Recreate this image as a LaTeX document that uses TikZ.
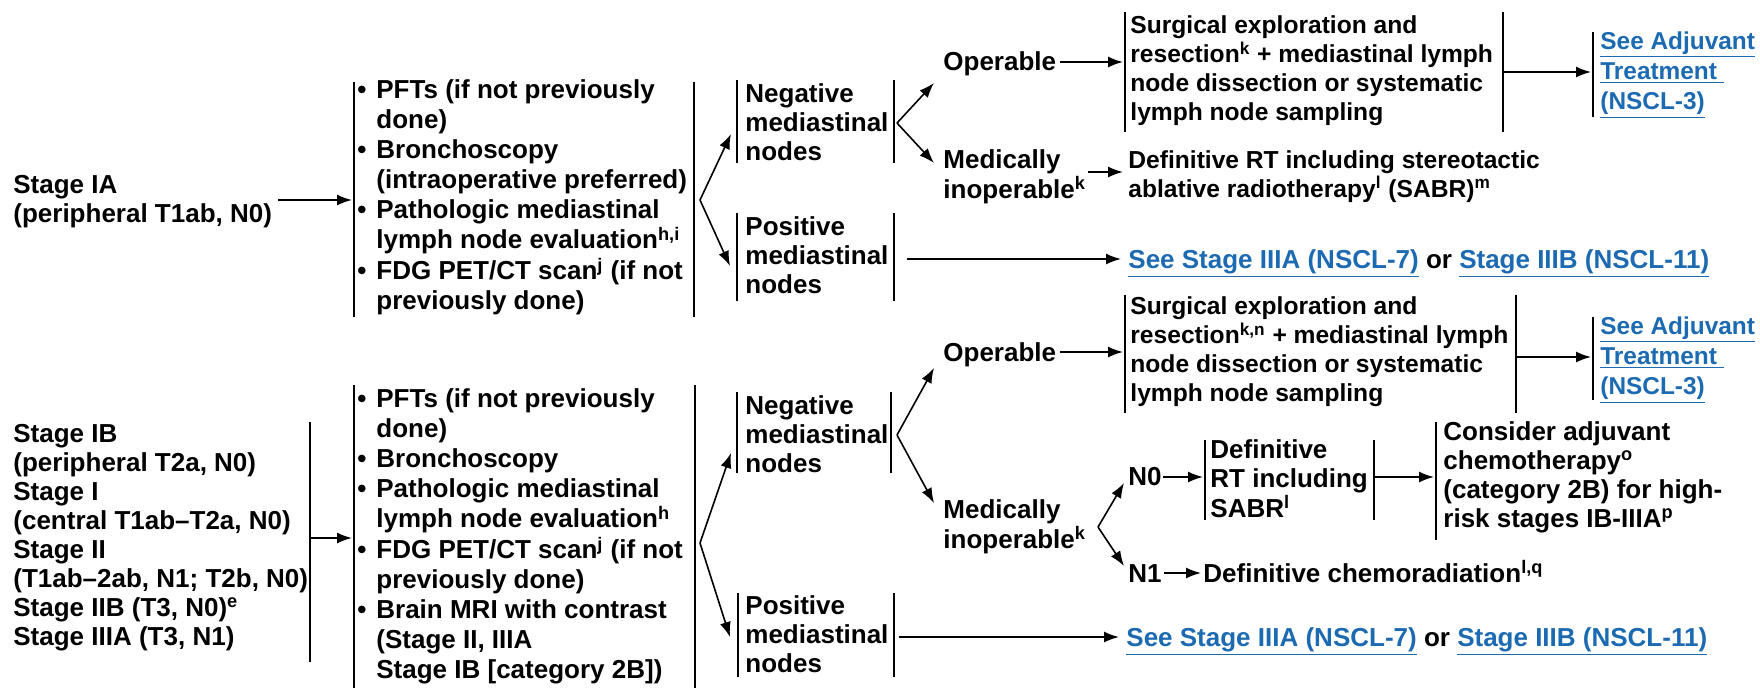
\documentclass[tikz,border=0pt]{standalone}
\usepackage{fontspec}
\setmainfont{Liberation Sans}
\usetikzlibrary{arrows.meta}
\definecolor{linkblue}{RGB}{28,106,178}
\newcommand{\tb}[1]{\begin{tabular}[t]{@{}l@{}}#1\end{tabular}}
\newcommand{\bul}{\makebox[9.5pt][l]{•}}
\newcommand{\ind}{\hspace*{9.5pt}}
\newcommand{\lnk}[1]{\textcolor{linkblue}{\underline{#1}}}
\newcommand{\sps}[1]{\textsuperscript{#1}}
\begin{document}
\begin{tikzpicture}[x=0.5pt,y=-0.5pt,
  txt/.style={anchor=base west, inner sep=0pt, font=\fontsize{13}{14.5}\selectfont\bfseries},
  txtp/.style={txt, font=\fontsize{13}{15}\selectfont\bfseries},
  txts/.style={txt, font=\fontsize{12.3}{14.5}\selectfont\bfseries},
  txtl/.style={txt, font=\fontsize{12.2}{15}\selectfont\bfseries},
  ln/.style={line width=0.8pt},
  arr/.style={line width=0.8pt, -{Latex[length=7.5pt,width=5.5pt]}}]
\useasboundingbox (0,0) rectangle (1760,687);
\clip (0,0) rectangle (1760,687);

% ---------------- TOP ----------------
\node[txt] (ia) at (13,193) {\tb{Stage IA\\(peripheral T1ab, N0)}};
\coordinate (iaout) at (278,200); \coordinate (pft1in) at (352,200);
\draw[arr] (iaout) -- (pft1in);

\draw[ln] (354,82) -- (354,317);
\draw[ln] (694,82) -- (694,317);
\node[txtp] (pft1) at (357,98) {\tb{\bul PFTs (if not previously\\\ind done)\\\bul Bronchoscopy\\\ind (intraoperative preferred)\\\bul Pathologic mediastinal\\\ind lymph node evaluation\sps{h,i}\\\bul FDG PET/CT scan\sps{j} (if not\\\ind previously done)}};

\coordinate (v1) at (700,200); \coordinate (neg1in) at (731,134); \coordinate (pos1in) at (730,266);
\draw[arr] (v1) -- (neg1in);
\draw[arr] (v1) -- (pos1in);

\draw[ln] (737,80) -- (737,163);
\draw[ln] (894,80) -- (894,163);
\node[txt] (neg1) at (745,102) {\tb{Negative\\mediastinal\\nodes}};

\coordinate (v2) at (897,123); \coordinate (op1in) at (934,83); \coordinate (mi1in) at (934,163);
\draw[arr] (v2) -- (op1in);
\draw[arr] (v2) -- (mi1in);

\node[txt] (op1) at (943,70) {Operable};
\coordinate (op1out) at (1060,62); \coordinate (sur1in) at (1123,62);
\draw[arr] (op1out) -- (sur1in);

\draw[ln] (1125,12) -- (1125,132);
\draw[ln] (1503,12) -- (1503,132);
\node[txts] (sur1) at (1130,33) {\tb{Surgical exploration and\\resection\sps{k} + mediastinal lymph\\node dissection or systematic\\lymph node sampling}};
\coordinate (sur1out) at (1503,72); \coordinate (adj1in) at (1591,72);
\draw[arr] (sur1out) -- (adj1in);

\draw[ln] (1593,32) -- (1593,117);
\node[txtl] (adj1) at (1600,49) {\tb{\lnk{See Adjuvant}\\\lnk{Treatment\ }\\\lnk{(NSCL-3)}}};

\node[txt] (mi1) at (943,168) {\tb{Medically\\inoperable\sps{k}}};
\coordinate (mi1out) at (1088,172); \coordinate (rt1in) at (1123,172);
\draw[arr] (mi1out) -- (rt1in);
\node[txts, font=\fontsize{12.3}{14}\selectfont\bfseries] (rt1) at (1128,168) {\tb{Definitive RT including stereotactic\\ablative radiotherapy\sps{l} (SABR)\sps{m}}};

\draw[ln] (737,213) -- (737,301);
\draw[ln] (894,213) -- (894,301);
\node[txt] (pos1) at (745,235) {\tb{Positive\\mediastinal\\nodes}};
\coordinate (pos1out) at (907,259); \coordinate (see1in) at (1121,259);
\draw[arr] (pos1out) -- (see1in);
\node[txt] (see1) at (1128,268) {\lnk{See Stage IIIA (NSCL-7)} or \lnk{Stage IIIB (NSCL-11)}};

% ---------------- BOTTOM ----------------
\node[txt] (ib) at (13,442) {\tb{Stage IB\\(peripheral T2a, N0)\\Stage I\\(central T1ab--T2a, N0)\\Stage II\\(T1ab--2ab, N1; T2b, N0)\\Stage IIB (T3, N0)\sps{e}\\Stage IIIA (T3, N1)}};
\draw[ln] (310,422) -- (310,662);
\coordinate (ibout) at (310,538); \coordinate (pft2in) at (352,538);
\draw[arr] (ibout) -- (pft2in);

\draw[ln] (354,385) -- (354,690);
\draw[ln] (695,385) -- (695,690);
\node[txtp] (pft2) at (357,407) {\tb{\bul PFTs (if not previously\\\ind done)\\\bul Bronchoscopy\\\bul Pathologic mediastinal\\\ind lymph node evaluation\sps{h}\\\bul FDG PET/CT scan\sps{j} (if not\\\ind previously done)\\\bul Brain MRI with contrast\\\ind (Stage II, IIIA\\\ind Stage IB [category 2B])}};

\coordinate (v3) at (700,543); \coordinate (neg2in) at (731,453); \coordinate (pos2in) at (730,637);
\draw[arr] (v3) -- (neg2in);
\draw[arr] (v3) -- (pos2in);

\draw[ln] (737,392) -- (737,473);
\draw[ln] (891,392) -- (891,473);
\node[txt] (neg2) at (745,414) {\tb{Negative\\mediastinal\\nodes}};

\coordinate (v4) at (897,435); \coordinate (op2in) at (934,368); \coordinate (mi2in) at (934,503);
\draw[arr] (v4) -- (op2in);
\draw[arr] (v4) -- (mi2in);

\node[txt] (op2) at (943,361) {Operable};
\coordinate (op2out) at (1060,352); \coordinate (sur2in) at (1123,352);
\draw[arr] (op2out) -- (sur2in);

\draw[ln] (1125,295) -- (1125,413);
\draw[ln] (1516,295) -- (1516,413);
\node[txts] (sur2) at (1130,314) {\tb{Surgical exploration and\\resection\sps{k,n} + mediastinal lymph\\node dissection or systematic\\lymph node sampling}};
\coordinate (sur2out) at (1516,357); \coordinate (adj2in) at (1591,357);
\draw[arr] (sur2out) -- (adj2in);

\draw[ln] (1593,317) -- (1593,400);
\node[txtl] (adj2) at (1600,334) {\tb{\lnk{See Adjuvant}\\\lnk{Treatment\ }\\\lnk{(NSCL-3)}}};

\node[txt] (mi2) at (943,518) {\tb{Medically\\inoperable\sps{k}}};
\coordinate (v5) at (1098,527); \coordinate (n0in) at (1124,483); \coordinate (n1in) at (1124,566);
\draw[arr] (v5) -- (n0in);
\draw[arr] (v5) -- (n1in);

\node[txt] (n0) at (1128,485) {N0};
\coordinate (n0out) at (1163,477); \coordinate (sabin) at (1203,477);
\draw[arr] (n0out) -- (sabin);

\draw[ln] (1205,440) -- (1205,520);
\draw[ln] (1374,440) -- (1374,520);
\node[txt] (sab) at (1210,458) {\tb{Definitive\\RT including\\SABR\sps{l}}};
\coordinate (sabout) at (1374,477); \coordinate (conin) at (1434,477);
\draw[arr] (sabout) -- (conin);

\draw[ln] (1436,422) -- (1436,540);
\node[txt] (con) at (1443,440) {\tb{Consider adjuvant\\chemotherapy\sps{o}\\(category 2B) for high-\\risk stages IB-IIIA\sps{p}}};

\node[txt] (n1) at (1128,582) {N1};
\coordinate (n1out) at (1164,573); \coordinate (chemin) at (1201,573);
\draw[arr] (n1out) -- (chemin);
\node[txt] (chem) at (1203,582) {Definitive chemoradiation\sps{l,q}};

\draw[ln] (738,593) -- (738,677);
\draw[ln] (894,593) -- (894,677);
\node[txt] (pos2) at (745,614) {\tb{Positive\\mediastinal\\nodes}};
\coordinate (pos2out) at (899,637); \coordinate (see2in) at (1119,637);
\draw[arr] (pos2out) -- (see2in);
\node[txt] (see2) at (1126,646) {\lnk{See Stage IIIA (NSCL-7)} or \lnk{Stage IIIB (NSCL-11)}};
\end{tikzpicture}
\end{document}
